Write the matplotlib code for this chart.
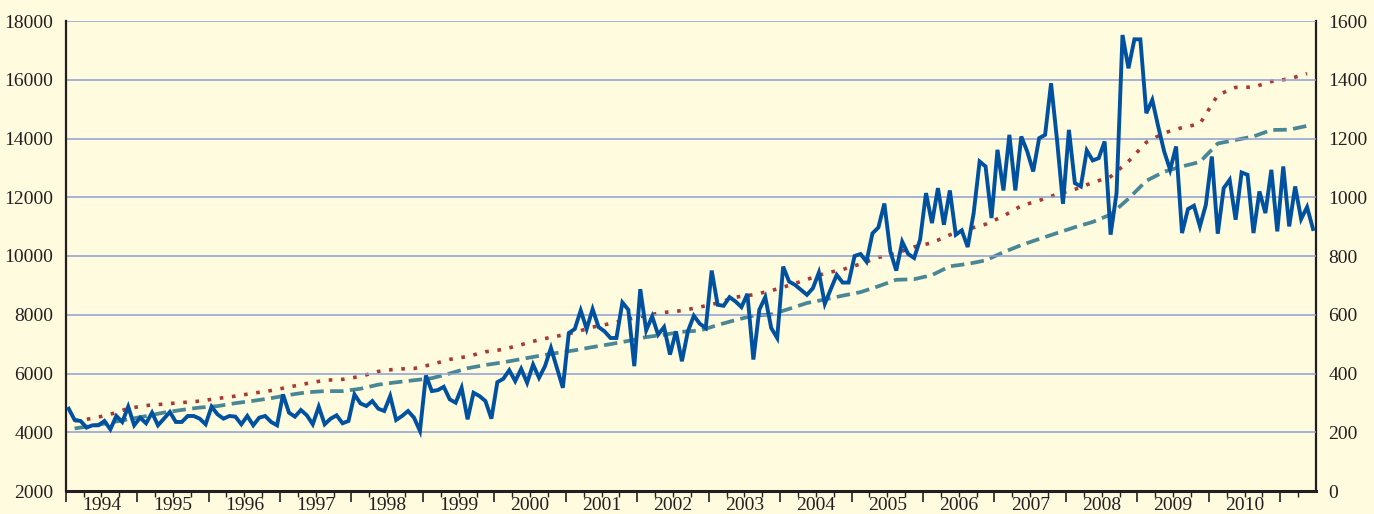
import matplotlib
matplotlib.use("Agg")
import matplotlib.pyplot as plt
import numpy as np

# ---- data ----
years = list(range(1994, 2011))  # labelled years (axis runs Jan 1994 .. Jun 2011)

# Monthly series (left axis)
blue = [
    4802, 4418, 4384, 4158, 4237, 4237, 4384, 4100, 4554, 4350, 4870, 4237,
    4497, 4305, 4667, 4237, 4463, 4690, 4350, 4350, 4554, 4554, 4463, 4271,
    4870, 4610, 4463, 4554, 4531, 4271, 4554, 4237, 4497, 4554, 4350, 4237,
    5288, 4667, 4531, 4757, 4576, 4271, 4870, 4271, 4463, 4576, 4305, 4384,
    5288, 4983, 4893, 5062, 4802, 4723, 5232, 4418, 4554, 4723, 4497, 4045,
    5932, 5401, 5435, 5548, 5119, 5006,
    5514, 4441, 5345, 5232, 5062, 4463, 5706, 5819, 6113, 5740, 6158, 5684,
    6305, 5853, 6249, 6870, 6192, 5514, 7379, 7514, 8147, 7514, 8192, 7582,
    7435, 7209, 7209, 8418, 8170, 6249, 8870, 7469, 7944, 7322, 7582, 6644,
    7435, 6418, 7435, 7966, 7695, 7548, 9503, 8339, 8305, 8599, 8452, 8260,
    8712, 6475, 8170, 8599, 7548, 7209, 9639, 9130, 9017, 8848, 8678, 8904,
    9435, 8373, 8870, 9356, 9096, 9096, 10000, 10068, 9808, 10769, 10972, 11786,
    10158, 9503, 10486, 10068,
    9932, 10555, 12141, 11121, 12311, 11065, 12232, 10725, 10872, 10306, 11461, 13218,
    13048, 11292, 13615, 12232, 14124, 12232, 14068, 13558, 12878, 14011, 14124, 15880,
    13954, 11778, 14294, 12481, 12368, 13592, 13252, 13331, 13898, 10725, 12141, 17523,
    16390, 17376, 17376, 14861, 15314, 14407, 13558, 12934, 13728, 10782, 11598, 11711,
    11008, 11745, 13388, 10759, 12311, 12594, 11235, 12844, 12764, 10782, 12198, 11461,
    12934, 10838, 13048, 11008, 12368, 11258, 11666, 10918,
]

# Quarterly series (right axis)
red = [
    239, 247, 261, 281, 291, 296, 301, 306, 315, 323, 333, 342,
    354, 366, 377, 380, 390, 407, 415, 417, 431, 448, 458, 474,
    482, 498, 515, 527, 540, 558, 570, 585, 598, 608, 614, 626,
    640, 660, 668, 682, 700, 720, 741, 754, 773, 795, 809, 831,
    845, 872, 891, 908, 936, 971, 989, 1010, 1027, 1050, 1070, 1122,
    1187, 1219, 1237, 1250, 1348, 1374, 1375, 1394, 1403, 1421,
]
teal = [
    213, 222, 233, 244, 255, 267, 276, 284, 289, 299, 307, 316,
    327, 336, 340, 340, 348, 362, 370, 377, 384, 400, 418, 429,
    438, 449, 460, 470, 479, 490, 500, 511, 524, 532, 542, 546,
    565, 582, 597, 601, 620, 640, 652, 665, 677, 697, 719, 721,
    735, 765, 773, 785, 813, 837, 858, 878, 898, 916, 941, 995,
    1056, 1087, 1105, 1120, 1183, 1195, 1207, 1229, 1230, 1243,
]

# ---- style ----
BG = "#FFFBDF"
BLUE = "#0052A0"
RED = "#A83A33"
TEAL = "#4A8796"
GRID = "#8E9FD2"
AXC = "#231F20"
FONT = ["Liberation Serif", "DejaVu Serif"]
FS = 14

plt.rcParams["font.family"] = FONT

fig = plt.figure(figsize=(13.74, 5.14), dpi=100, facecolor=BG)
ax = fig.add_axes([65.7 / 1374, 23 / 514, (1316 - 65.7) / 1374, 470 / 514])
ax.set_facecolor(BG)
ax2 = ax.twinx()

n_months = len(blue)
xm = np.arange(n_months) + 0.5
xq = np.arange(len(red)) * 3 + 1.5

ax.set_xlim(0, n_months)
ax.set_ylim(2000, 18000)
ax2.set_ylim(0, 1600)

# grid
for v in range(4000, 18001, 2000):
    ax.axhline(v, color=GRID, lw=1.1, zorder=1)

ax2.plot(xq, teal, color=TEAL, lw=2.7, linestyle=(0, (3.6, 1.7)),
         dash_capstyle="butt", zorder=3)
ax2.plot(xq, red, color=RED, lw=2.6, linestyle=(0, (1.0, 2.4)),
         dash_capstyle="butt", zorder=3)
ax.plot(xm, blue, color=BLUE, lw=2.8, zorder=4, solid_joinstyle="miter")
ax.set_zorder(ax2.get_zorder() + 1)
ax.patch.set_visible(False)
ax2.patch.set_facecolor(BG)
ax2.patch.set_visible(True)

# y ticks
ax.set_yticks(range(2000, 18001, 2000))
ax.set_yticklabels([str(v) for v in range(2000, 18001, 2000)])
ax2.set_yticks(range(0, 1601, 200))
ax2.set_yticklabels([str(v) for v in range(0, 1601, 200)])
ax.tick_params(axis="y", length=0, pad=9, labelsize=FS, labelcolor=AXC)
ax2.tick_params(axis="y", length=0, pad=9, labelsize=FS, labelcolor=AXC)

# x ticks: long at year boundaries, short at quarters
ax.set_xticks(np.arange(0, n_months + 1, 12))
ax.set_xticks([m for m in range(3, n_months, 3) if m % 12 != 0], minor=True)
ax.tick_params(axis="x", which="major", length=8, width=1.2, color=AXC,
               labelbottom=False, direction="out")
ax.tick_params(axis="x", which="minor", length=4, width=1.0, color=AXC,
               direction="out")
for k, yr in enumerate(years):
    ax.text(6 + 12 * k, -0.012, str(yr), transform=ax.get_xaxis_transform(),
            ha="center", va="top", fontsize=FS, color=AXC)

for a in (ax, ax2):
    a.spines["top"].set_visible(False)
    a.spines["left"].set_color(AXC)
    a.spines["right"].set_color(AXC)
    a.spines["bottom"].set_color(AXC)
ax.spines["left"].set_linewidth(1.6)
ax.spines["bottom"].set_linewidth(2.2)
ax2.spines["right"].set_linewidth(1.6)
ax2.spines["bottom"].set_visible(False)
ax.spines["right"].set_visible(False)
ax2.spines["left"].set_visible(False)

fig.savefig("out.png", dpi=100, facecolor=BG)
